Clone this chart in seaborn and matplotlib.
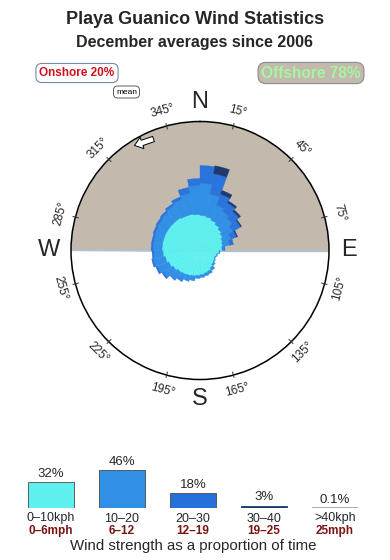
import numpy as np
import matplotlib
matplotlib.use("Agg")
import matplotlib.pyplot as plt
import seaborn as sns
from matplotlib.patches import FancyArrow

sns.set_style("white")
plt.rcParams['font.family'] = ['Liberation Sans', 'DejaVu Sans']

# ---------------- data ----------------
title = "Playa Guanico Wind Statistics"
subtitle = "December averages since 2006"
onshore_label = "Onshore 20%"
offshore_label = "Offshore 78%"

# wind-rose sectors (degrees, centre of 10-degree bins)
directions = [5, 15, 25, 35, 45, 55, 65, 75, 85, 95, 105, 115,
              125, 135, 145, 155, 165, 175, 185, 195, 205, 215, 225, 235,
              245, 255, 265, 275, 285, 295, 305, 315, 325, 335, 345, 355]
# radial extent of each speed class per sector (rose units)
rose_0_10 = [35, 34, 32, 30, 28, 26, 24, 23, 22, 19, 17, 16,
             17, 18, 20, 22, 23, 24, 25, 26, 27, 28, 29, 31,
             33, 35, 37, 38, 38, 38, 38, 38, 38, 37, 37, 36]
rose_10_20 = [32, 23, 16, 15, 14, 12, 9, 7, 2, 1, 1, 1,
              1, 2, 3, 3, 3, 3, 3, 5, 6, 7, 9, 11,
              12, 12, 9, 9, 9, 10, 11, 12, 14, 17, 21, 29]
rose_20_30 = [18, 21, 12, 10, 9, 9, 6, 4, 1, 0, 0, 0,
              0, 0, 0, 0, 0, 0, 0, 0, 0, 1, 1, 2,
              2, 2, 2, 2, 2, 2, 2, 2, 2, 3, 6, 7]
rose_30_40 = [0, 8, 4, 2, 2, 1, 1, 0, 0, 0, 0, 0,
              0, 0, 0, 0, 0, 0, 0, 0, 0, 0, 0, 0,
              0, 0, 0, 0, 0, 0, 0, 0, 0, 0, 0, 0]
rose_40_up = [0, 0, 0, 0, 0, 0, 0, 0, 0, 0, 0, 0,
              0, 0, 0, 0, 0, 0, 0, 0, 0, 0, 0, 0,
              0, 0, 0, 0, 0, 0, 0, 0, 0, 0, 0, 0]
rose_rmax = 129

# strength distribution
speed_kph = ["0\u201310kph", "10\u201320", "20\u201330", "30\u201340", ">40kph"]
speed_mph = ["0\u20136mph", "6\u201312", "12\u201319", "19\u201325", "25mph"]
speed_pct = [32, 46, 18, 3, 0.1]
speed_pct_labels = ["32%", "46%", "18%", "3%", "0.1%"]

degree_labels = [15, 45, 75, 105, 135, 165, 195, 225, 255, 285, 315, 345]
compass = [("N", 0), ("E", 90), ("S", 180), ("W", 270)]

class_colors = ['#5ef0ef', '#3190e6', '#2a74dc', '#1f3a6e', '#b0b0b0']
tan = '#c4b9ad'

# ---------------- figure ----------------
W, H = 390, 560
fig = plt.figure(figsize=(W / 100, H / 100), dpi=100)

def fx(px):
    return px / W

def fy(py):
    return 1 - py / H

fig.text(fx(195), fy(20), title, ha='center', va='center',
         fontsize=13, fontweight='bold')
fig.text(fx(195), fy(43), subtitle, ha='center', va='center',
         fontsize=11.5, fontweight='bold')

fig.text(fx(77), fy(73), onshore_label, ha='center', va='center',
         fontsize=8.5, fontweight='bold', color='#d0101c',
         bbox=dict(boxstyle='round,pad=0.3,rounding_size=0.5',
                   fc='white', ec='#7a88a8', lw=0.8))
fig.text(fx(311), fy(73), offshore_label, ha='center', va='center',
         fontsize=11.2, fontweight='bold', color='#a8f5a0',
         bbox=dict(boxstyle='round,pad=0.2,rounding_size=0.5',
                   fc=tan, ec='#8a8a8a', lw=0.8))
fig.text(fx(126.5), fy(92), "mean", ha='center', va='center',
         fontsize=6, color='black',
         bbox=dict(boxstyle='round,pad=0.3,rounding_size=0.5',
                   fc='white', ec='#444444', lw=0.6))

# ---------------- polar rose ----------------
cx, cy, R = 200, 250.5, 129
ax = fig.add_axes([fx(cx - R), fy(cy + R), 2 * R / W, 2 * R / H],
                  projection='polar')
ax.set_theta_zero_location('N')
ax.set_theta_direction(-1)
ax.set_ylim(0, rose_rmax)
ax.set_facecolor('white')
ax.grid(False)
ax.set_xticks([])
ax.set_yticks([])
ax.spines['polar'].set_color('black')
ax.spines['polar'].set_linewidth(1.1)

# offshore half (north side)
th = np.linspace(-np.pi / 2, np.pi / 2, 200)
ax.fill_between(th, 0, rose_rmax, color=tan, lw=0, zorder=0)
ax.plot([np.pi / 2, np.pi / 2], [0, rose_rmax], color='#a9c6e2', lw=1, zorder=1)
ax.plot([-np.pi / 2, -np.pi / 2], [0, rose_rmax], color='#a9c6e2', lw=1, zorder=1)

theta = np.deg2rad(directions)
width = np.deg2rad(10)
bottom = np.zeros(len(directions))
for seg, col in zip([rose_0_10, rose_10_20, rose_20_30, rose_30_40, rose_40_up],
                    class_colors):
    seg = np.array(seg, dtype=float)
    m = seg > 0
    if m.any():
        ax.bar(theta[m], seg[m], width=width, bottom=bottom[m], color=col,
               edgecolor=col, linewidth=0.25, align='center', zorder=2)
    bottom = bottom + seg

# ticks and degree labels
for d in degree_labels:
    t = np.deg2rad(d)
    ax.plot([t, t], [rose_rmax * 0.975, rose_rmax * 1.02], color='#333333',
            lw=0.7, clip_on=False, zorder=3)
    rot = ((-d + 90) % 180) - 90
    ax.text(t, rose_rmax * 1.12, f"{d}\u00b0", ha='center', va='center',
            rotation=rot, rotation_mode='anchor', fontsize=8.5,
            clip_on=False)

for lab, d in compass:
    rr = 1.17 if lab == "W" else 1.155
    ax.text(np.deg2rad(d), rose_rmax * rr, lab, ha='center', va='center',
            fontsize=17, clip_on=False)

# mean arrow
arr = FancyArrow(1.535, (H - 139) / 100, -0.19, -0.065, width=0.055,
                 head_width=0.12, head_length=0.08, length_includes_head=True,
                 fc='white', ec='black', lw=0.7,
                 transform=fig.dpi_scale_trans)
fig.patches.append(arr)

# ---------------- strength bars ----------------
left_px = 51 - 35.5
axb = fig.add_axes([fx(left_px), fy(508), 355 / W, 50 / H])
sns.barplot(x=speed_kph, y=speed_pct, hue=speed_kph, palette=class_colors,
            legend=False, width=0.634, saturation=1, ax=axb,
            edgecolor='#4a4a4a', linewidth=0.6)
patches = axb.patches
if len(patches) >= 5:
    patches[4].set_edgecolor('#a0a0a0')
    patches[4].set_linewidth(1.2)
    patches[3].set_edgecolor('#1f3a6e')
    patches[2].set_facecolor('#2670da')
axb.set_xlim(-0.5, 4.5)
axb.set_ylim(0, 50 / 0.82)
axb.axis('off')

for i, (p, lab, k, m) in enumerate(zip(speed_pct, speed_pct_labels,
                                       speed_kph, speed_mph)):
    axb.annotate(lab, (i, p), xytext=(0, 1.5), textcoords='offset points',
                 ha='center', va='bottom', fontsize=9.5)
    fig.text(fx(51 + 71 * i), fy(512.5), k, ha='center', va='top',
             fontsize=9)
    fig.text(fx(51 + 71 * i), fy(525), m, ha='center', va='top',
             fontsize=8.5, fontweight='bold', color='#7a1414')

fig.text(fx(193), fy(546), "Wind strength as a proportion of time",
         ha='center', va='center', fontsize=10.8)

fig.savefig("out.png", dpi=100)
